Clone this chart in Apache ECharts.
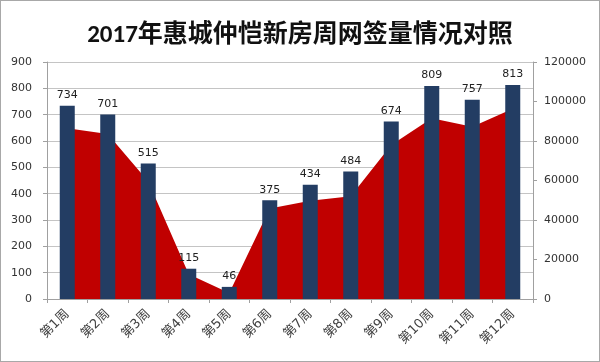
<!DOCTYPE html>
<html><head><meta charset="utf-8">
<script src="https://cdn.jsdelivr.net/npm/echarts@6/dist/echarts.min.js"></script>
<style>
html,body{margin:0;padding:0;background:#fff;}
#c{width:600px;height:362px;box-sizing:border-box;border:1px solid #a8a8a8;}
</style></head>
<body><div id="c"></div>
<script>
const categories = ['第1周','第2周','第3周','第4周','第5周','第6周','第7周','第8周','第9周','第10周','第11周','第12周'];
const unitsSigned = [734, 701, 515, 115, 46, 375, 434, 484, 674, 809, 757, 813];
const areaSigned = [86500, 83500, 59500, 12500, 3000, 45800, 49800, 52000, 78000, 91500, 87200, 96300];
const leftTicks = {min: 0, max: 900, interval: 100};
const rightTicks = {min: 0, max: 120000, interval: 20000};

const chart = echarts.init(document.getElementById('c'));
const font = 'DejaVu Sans, "Noto Sans CJK SC", sans-serif';
chart.setOption({
  animation: false,
  backgroundColor: '#fff',
  title: {
    text: '2017年惠城仲恺新房周网签量情况对照',
    left: 'center', top: 17,
    textStyle: {fontSize: 25, fontWeight: 'bold', color: '#111', fontFamily: 'Calibri, "Noto Sans CJK SC", sans-serif'}
  },
  grid: {left: 46, right: 66, top: 61, bottom: 62},
  xAxis: {
    type: 'category', data: categories, boundaryGap: true,
    axisLine: {lineStyle: {color: '#a0a0a0'}},
    axisTick: {show: true, alignWithLabel: false, length: 4, lineStyle: {color: '#a0a0a0'}},
    axisLabel: {rotate: 45, interval: 0, fontSize: 13, color: '#404040', margin: 13, fontFamily: font}
  },
  yAxis: [{
    type: 'value', min: leftTicks.min, max: leftTicks.max, interval: leftTicks.interval,
    axisLine: {show: true, lineStyle: {color: '#a0a0a0'}},
    axisTick: {show: true, length: 4, lineStyle: {color: '#a0a0a0'}},
    axisLabel: {fontSize: 11, color: '#333', margin: 15, fontFamily: font},
    splitLine: {lineStyle: {color: '#c4c4c4'}}
  }, {
    type: 'value', min: rightTicks.min, max: rightTicks.max, interval: rightTicks.interval,
    axisLine: {show: true, lineStyle: {color: '#a0a0a0'}},
    axisTick: {show: true, length: 4, lineStyle: {color: '#a0a0a0'}},
    axisLabel: {fontSize: 11, color: '#333', margin: 11, fontFamily: font, formatter: v => String(v)},
    splitLine: {show: false}
  }],
  series: [{
    type: 'line', yAxisIndex: 1, data: areaSigned, symbol: 'none', z: 2,
    lineStyle: {width: 0}, areaStyle: {color: '#c00000', opacity: 1}
  }, {
    type: 'bar', yAxisIndex: 0, data: unitsSigned, barWidth: 15, z: 3,
    itemStyle: {color: '#233d63'},
    label: {show: true, position: 'top', distance: 5, fontSize: 11, color: '#222', fontFamily: font}
  }]
});
</script></body></html>
